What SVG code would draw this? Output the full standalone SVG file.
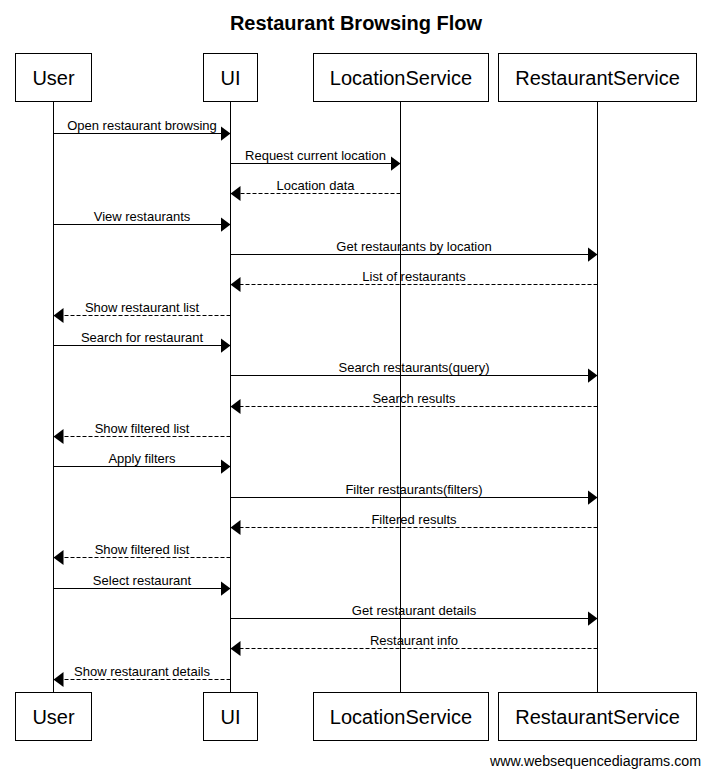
<svg xmlns="http://www.w3.org/2000/svg" width="711" height="776" viewBox="0 0 711 776">
<style>
text{font-family:"Liberation Sans",Arial,sans-serif;fill:#000}
.title{font-size:20px;font-weight:bold;text-anchor:middle}
.pname{font-size:20px;text-anchor:middle}
.lbl{font-size:13px;text-anchor:middle}
.wm{font-size:14px}
.box{fill:#fff;stroke:#000;stroke-width:1}
.life{stroke:#000;stroke-width:1}
.msg{stroke:#000;stroke-width:1;fill:none;marker-end:url(#ah)}
.ret{stroke:#000;stroke-width:1;fill:none;stroke-dasharray:4 2;marker-end:url(#ah)}
</style>
<defs>
<marker id="ah" viewBox="0 0 10 15" refX="10" refY="7.5" markerWidth="10" markerHeight="15" orient="auto" markerUnits="userSpaceOnUse">
<path d="M0,0 L10,7.5 L0,15 Z" fill="#000"/>
</marker>
</defs>
<rect width="711" height="776" fill="#fff"/>
<text class="title" x="356" y="30">Restaurant Browsing Flow</text>

<g id="lifelines">
<line class="life" x1="53.5" y1="101.5" x2="53.5" y2="692.5"/>
<line class="life" x1="230.5" y1="101.5" x2="230.5" y2="692.5"/>
<line class="life" x1="400.5" y1="101.5" x2="400.5" y2="692.5"/>
<line class="life" x1="597.5" y1="101.5" x2="597.5" y2="692.5"/>
</g>

<g id="node-User">
<rect class="box" x="15.5" y="53.5" width="76" height="48"/>
<text class="pname" x="53.5" y="85">User</text>
<rect class="box" x="15.5" y="692.5" width="76" height="48"/>
<text class="pname" x="53.5" y="724">User</text>
</g>
<g id="node-UI">
<rect class="box" x="203.5" y="53.5" width="54" height="48"/>
<text class="pname" x="230.5" y="85">UI</text>
<rect class="box" x="203.5" y="692.5" width="54" height="48"/>
<text class="pname" x="230.5" y="724">UI</text>
</g>
<g id="node-LocationService">
<rect class="box" x="313.5" y="53.5" width="175" height="48"/>
<text class="pname" x="401" y="85">LocationService</text>
<rect class="box" x="313.5" y="692.5" width="175" height="48"/>
<text class="pname" x="401" y="724">LocationService</text>
</g>
<g id="node-RestaurantService">
<rect class="box" x="498.5" y="53.5" width="198" height="48"/>
<text class="pname" x="597.5" y="85">RestaurantService</text>
<rect class="box" x="498.5" y="692.5" width="198" height="48"/>
<text class="pname" x="597.5" y="724">RestaurantService</text>
</g>

<g id="connectors">
<line class="msg" x1="53.5" y1="133.5" x2="230.5" y2="133.5"/>
<text class="lbl" x="142" y="129.5">Open restaurant browsing</text>

<line class="msg" x1="230.5" y1="163.5" x2="400.5" y2="163.5"/>
<text class="lbl" x="315.5" y="159.5">Request current location</text>

<line class="ret" x1="400.5" y1="193.5" x2="230.5" y2="193.5"/>
<text class="lbl" x="315.5" y="189.5">Location data</text>

<line class="msg" x1="53.5" y1="224.5" x2="230.5" y2="224.5"/>
<text class="lbl" x="142" y="220.5">View restaurants</text>

<line class="msg" x1="230.5" y1="254.5" x2="597.5" y2="254.5"/>
<text class="lbl" x="414" y="250.5">Get restaurants by location</text>

<line class="ret" x1="597.5" y1="284.5" x2="230.5" y2="284.5"/>
<text class="lbl" x="414" y="280.5">List of restaurants</text>

<line class="ret" x1="230.5" y1="315.5" x2="53.5" y2="315.5"/>
<text class="lbl" x="142" y="311.5">Show restaurant list</text>

<line class="msg" x1="53.5" y1="345.5" x2="230.5" y2="345.5"/>
<text class="lbl" x="142" y="341.5">Search for restaurant</text>

<line class="msg" x1="230.5" y1="375.5" x2="597.5" y2="375.5"/>
<text class="lbl" x="414" y="371.5">Search restaurants(query)</text>

<line class="ret" x1="597.5" y1="406.5" x2="230.5" y2="406.5"/>
<text class="lbl" x="414" y="402.5">Search results</text>

<line class="ret" x1="230.5" y1="436.5" x2="53.5" y2="436.5"/>
<text class="lbl" x="142" y="432.5">Show filtered list</text>

<line class="msg" x1="53.5" y1="466.5" x2="230.5" y2="466.5"/>
<text class="lbl" x="142" y="462.5">Apply filters</text>

<line class="msg" x1="230.5" y1="497.5" x2="597.5" y2="497.5"/>
<text class="lbl" x="414" y="493.5">Filter restaurants(filters)</text>

<line class="ret" x1="597.5" y1="527.5" x2="230.5" y2="527.5"/>
<text class="lbl" x="414" y="523.5">Filtered results</text>

<line class="ret" x1="230.5" y1="557.5" x2="53.5" y2="557.5"/>
<text class="lbl" x="142" y="553.5">Show filtered list</text>

<line class="msg" x1="53.5" y1="588.5" x2="230.5" y2="588.5"/>
<text class="lbl" x="142" y="584.5">Select restaurant</text>

<line class="msg" x1="230.5" y1="618.5" x2="597.5" y2="618.5"/>
<text class="lbl" x="414" y="614.5">Get restaurant details</text>

<line class="ret" x1="597.5" y1="648.5" x2="230.5" y2="648.5"/>
<text class="lbl" x="414" y="644.5">Restaurant info</text>

<line class="ret" x1="230.5" y1="679.5" x2="53.5" y2="679.5"/>
<text class="lbl" x="142" y="675.5">Show restaurant details</text>
</g>

<text class="wm" x="490" y="766" textLength="211" lengthAdjust="spacingAndGlyphs">www.websequencediagrams.com</text>
</svg>
